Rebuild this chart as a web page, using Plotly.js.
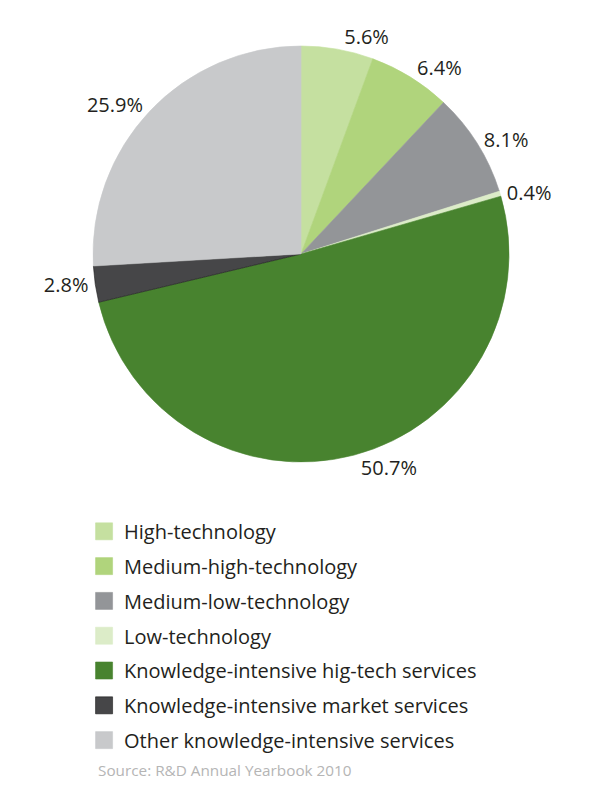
<!DOCTYPE html>
<html>
<head>
<meta charset="utf-8">
<script src="https://cdn.plot.ly/plotly-3.0.1.min.js"></script>
<style>html,body{margin:0;padding:0;background:#fff;}#chart{width:592px;height:785px;}</style>
</head>
<body>
<div id="chart"></div>
<script>
const categories = [
  "High-technology",
  "Medium-high-technology",
  "Medium-low-technology",
  "Low-technology",
  "Knowledge-intensive hig-tech services",
  "Knowledge-intensive market services",
  "Other knowledge-intensive services"
];
const shares = [5.6, 6.4, 8.1, 0.4, 50.7, 2.8, 25.9];
const sliceColors = ["#c5e0a0", "#b0d47c", "#939598", "#dcecc8", "#48832f", "#464648", "#c8c9cb"];
const sourceNote = "Source: R&D Annual Yearbook 2010";

const FONT = "'Open Sans', Lato, sans-serif";

const trace = {
  type: "pie",
  labels: categories,
  values: shares,
  text: shares.map(v => v.toFixed(1) + "%"),
  textinfo: "text",
  textposition: "outside",
  hoverinfo: "label+text",
  sort: false,
  direction: "clockwise",
  rotation: 0,
  marker: {
    colors: sliceColors,
    line: { color: sliceColors.map((c, i) => i === 5 ? "#1a1a1a" : c), width: 0.6 }
  },
  outsidetextfont: { family: FONT, size: 20, color: "#231f20" },
  domain: { x: [0.157, 0.860], y: [0.4115, 0.9414] }
};

const layout = {
  width: 592,
  height: 785,
  margin: { l: 0, r: 0, t: 0, b: 0 },
  paper_bgcolor: "#ffffff",
  showlegend: true,
  legend: {
    x: 0.142, xanchor: "left",
    y: 0.348, yanchor: "top",
    font: { family: FONT, size: 20, color: "#231f20" },
    bgcolor: "rgba(0,0,0,0)",
    itemclick: false, itemdoubleclick: false
  },
  annotations: [{
    text: sourceNote, showarrow: false,
    xref: "paper", yref: "paper",
    x: 0.162, xanchor: "left", y: 0.004, yanchor: "bottom",
    font: { family: FONT, size: 15.3, color: "#b5b5b5" }
  }]
};

Plotly.newPlot("chart", [trace], layout, { displayModeBar: false, staticPlot: true }).then(gd => {
  // spread legend rows and enlarge swatches to match the reference look
  const items = gd.querySelectorAll(".legend .traces");
  const spacing = 34.8;
  const re = /translate\(([-\d.]+),\s*([-\d.]+)\)/;
  const m0 = items[0] && re.exec(items[0].getAttribute("transform") || "");
  const base = m0 ? parseFloat(m0[2]) : 0;
  items.forEach((g, i) => {
    const m = re.exec(g.getAttribute("transform") || "");
    const x = m ? parseFloat(m[1]) : 0;
    g.setAttribute("transform", "translate(" + x + "," + (base + i * spacing) + ")");
    g.querySelectorAll("path.legendpie").forEach(p => p.setAttribute("d", "M8.5,8.5H-8.5V-8.5H8.5Z"));
  });
  gd.querySelectorAll(".legend .scrollbox").forEach(s => s.removeAttribute("clip-path"));
  gd.querySelectorAll(".legend").forEach(s => s.removeAttribute("clip-path"));
});
</script>
</body>
</html>
